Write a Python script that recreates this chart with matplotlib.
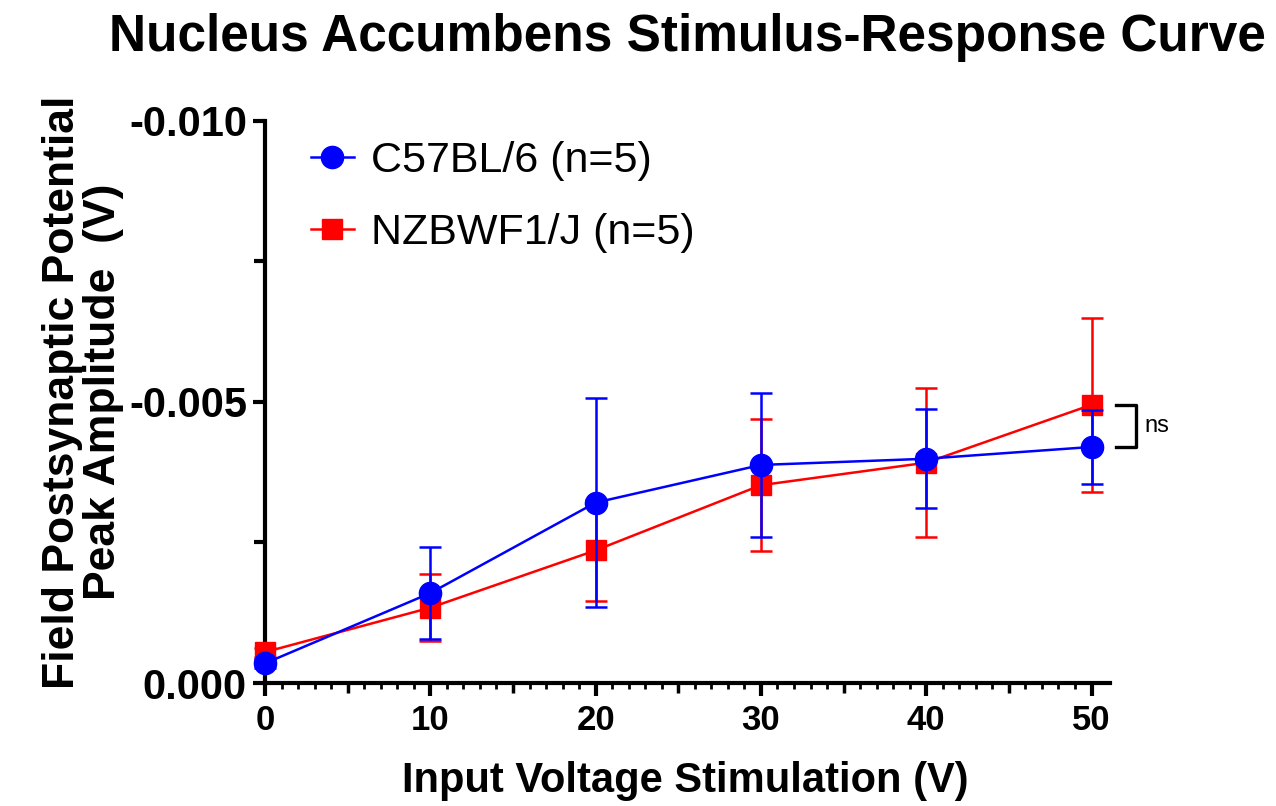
import matplotlib
matplotlib.use("Agg")
import matplotlib.pyplot as plt
from matplotlib.lines import Line2D
import numpy as np

plt.rcParams['font.family'] = ['Liberation Sans', 'DejaVu Sans']

# данные
voltage = [0, 10, 20, 30, 40, 50]

c57_mean = [-0.00035, -0.00160, -0.00321, -0.00388, -0.00399, -0.00420]
c57_sem = [0.00008, 0.00082, 0.00186, 0.00128, 0.00088, 0.00066]

nzb_mean = [-0.00055, -0.00134, -0.00236, -0.00352, -0.00392, -0.00495]
nzb_sem = [0.00008, 0.00060, 0.00090, 0.00118, 0.00133, 0.00155]

c57_label = 'C57BL/6 (n=5)'
nzb_label = 'NZBWF1/J (n=5)'
y_ticks = [0.0, -0.005, -0.010]
x_ticks = [0, 10, 20, 30, 40, 50]


def main():
    fig = plt.figure(figsize=(12.76, 8.06), dpi=100)
    ax = fig.add_axes([0.2077, 0.1526, 0.662, 0.6973])

    # красная серия снизу, синяя поверх
    ax.errorbar(voltage, nzb_mean, yerr=nzb_sem, color='#ff0000', marker='s',
                markersize=15, linewidth=1.8, elinewidth=1.8, capsize=8,
                capthick=1.8, clip_on=False, zorder=3)
    ax.errorbar(voltage, c57_mean, yerr=c57_sem, color='#0000ff', marker='o',
                markersize=16, linewidth=1.8, elinewidth=1.8, capsize=8,
                capthick=1.8, clip_on=False, zorder=4)

    ax.set_xlim(0, 51.1)
    ax.set_ylim(0, -0.010)

    ax.set_xticks(x_ticks)
    ax.set_xticks(np.arange(0, 51, 1), minor=True)
    ax.set_yticks(y_ticks)
    ax.set_yticklabels(['0.000', '-0.005', '-0.010'])
    ax.set_yticks([-0.0025, -0.0075], minor=True)

    for side in ['top', 'right']:
        ax.spines[side].set_visible(False)
    for side in ['left', 'bottom']:
        ax.spines[side].set_linewidth(3)

    ax.tick_params(axis='both', which='major', length=9, width=3, pad=6)
    ax.tick_params(axis='x', which='major', labelsize=25)
    ax.tick_params(axis='y', which='major', labelsize=30, pad=4)
    ax.tick_params(axis='x', which='minor', length=4, width=2)
    ax.tick_params(axis='y', which='minor', length=8, width=3)
    for lab in ax.get_xticklabels() + ax.get_yticklabels():
        lab.set_fontweight('bold')

    # средние засечки на 5, 15, ...
    sec = ax.secondary_xaxis('bottom')
    sec.set_xticks([5, 15, 25, 35, 45])
    sec.set_xticklabels([])
    sec.tick_params(length=7, width=2.5)
    sec.spines['bottom'].set_visible(False)

    ax.set_xlabel('Input Voltage Stimulation (V)', fontsize=30,
                  fontweight='bold')
    ax.xaxis.set_label_coords(0.497, -0.138)
    ax.set_ylabel('Field Postsynaptic Potential\nPeak Amplitude  (V)',
                  fontsize=32, fontweight='bold', linespacing=1.0)
    ax.yaxis.set_label_coords(-0.167, 0.518)
    fig.text(0.539, 0.954, 'Nucleus Accumbens Stimulus-Response Curve',
             ha='center', va='center', fontsize=37, fontweight='bold')

    # скобка значимости
    y1 = nzb_mean[-1]
    y2 = c57_mean[-1]
    ax.plot([51.5, 52.7, 52.7, 51.5], [y1, y1, y2, y2], color='black',
            linewidth=2.4, clip_on=False)
    ax.text(53.2, (y1 + y2) / 2, 'ns', fontsize=17, va='center', ha='left')

    handles = [
        Line2D([], [], color='#0000ff', marker='o', markersize=16, linewidth=1.8),
        Line2D([], [], color='#ff0000', marker='s', markersize=15, linewidth=1.8),
    ]
    ax.legend(handles, [c57_label, nzb_label], loc='upper left',
              bbox_to_anchor=(0.054, 0.965), frameon=False, fontsize=31,
              handlelength=1.0, handletextpad=0.4, labelspacing=0.75,
              borderpad=0, borderaxespad=0)

    fig.savefig('out.png', dpi=100)


if __name__ == '__main__':
    main()
